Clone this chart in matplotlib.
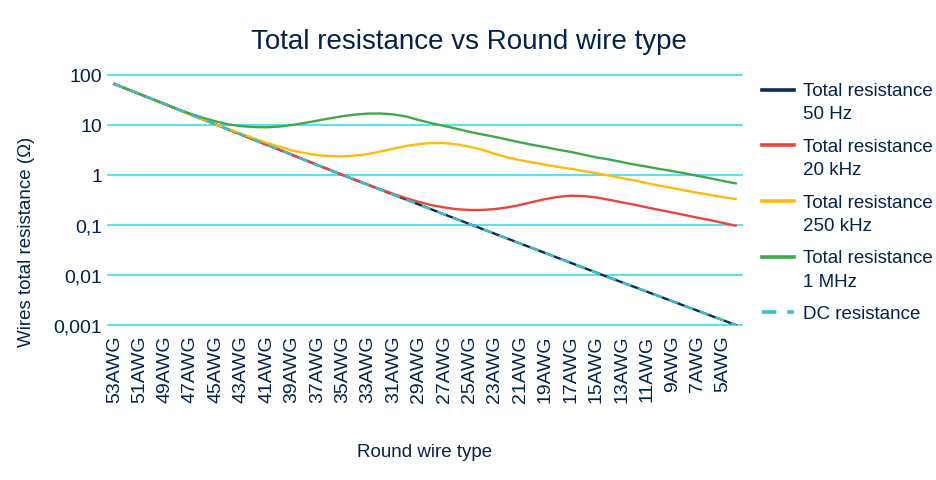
import numpy as np
import matplotlib
matplotlib.use("Agg")
import matplotlib.pyplot as plt
from matplotlib.legend_handler import HandlerLine2D

plt.rcParams['font.family'] = ['Liberation Sans', 'DejaVu Sans']

# wire gauges, 53AWG down to 4AWG
gauges = [f"{g}AWG" for g in range(53, 3, -1)]

dc_res = [66.1, 52.4, 41.5, 32.9, 26.1, 20.6, 16.3, 12.9, 10.3, 8.13,
          6.44, 5.10, 4.04, 3.21, 2.54, 2.01, 1.59, 1.26, 1.00, 0.798,
          0.637, 0.508, 0.406, 0.324, 0.258, 0.206, 0.164, 0.131, 0.105, 0.0836,
          0.0669, 0.0535, 0.0428, 0.0342, 0.0274, 0.0219, 0.0175, 0.0140, 0.0112, 0.00895,
          0.00719, 0.00578, 0.00464, 0.00373, 0.00299, 0.00240, 0.00193, 0.00155, 0.00125, 0.00100]

res_50hz = list(dc_res)

res_20khz = dc_res[:20] + [
    0.64, 0.515, 0.42, 0.345, 0.29, 0.25, 0.225, 0.207, 0.200, 0.200,
    0.208, 0.225, 0.252, 0.29, 0.33, 0.365, 0.385, 0.38, 0.355, 0.32,
    0.285, 0.255, 0.225, 0.2, 0.178, 0.158, 0.14, 0.125, 0.11, 0.097]

res_250khz = dc_res[:9] + [
    8.3, 6.7, 5.4, 4.4, 3.7, 3.1, 2.75, 2.5, 2.38, 2.36,
    2.45, 2.62, 2.95, 3.35, 3.8, 4.15, 4.35, 4.35, 4.1, 3.7,
    3.2, 2.65, 2.25, 1.98, 1.78, 1.6, 1.45, 1.33, 1.2, 1.09,
    0.98, 0.87, 0.78, 0.69, 0.61, 0.55, 0.49, 0.44, 0.4, 0.36, 0.33]

res_1mhz = dc_res[:5] + [
    20.8, 16.8, 13.9, 11.8, 10.3, 9.5, 9.1, 9.0, 9.3, 10.0,
    11.0, 12.2, 13.6, 15.0, 16.2, 16.9, 17.0, 16.3, 14.8, 12.6,
    10.9, 9.6, 8.4, 7.3, 6.5, 5.8, 5.1, 4.5, 4.0, 3.6,
    3.2, 2.9, 2.55, 2.25, 2.05, 1.82, 1.62, 1.47, 1.32, 1.2,
    1.08, 0.96, 0.86, 0.76, 0.68]

navy = "#03234B"
grid_c = "#3DDCEF"


class TopLineHandler(HandlerLine2D):
    # put the legend key next to the first line of a two-line label
    def __init__(self, shift, **kw):
        super().__init__(**kw)
        self.shift = shift

    def create_artists(self, legend, orig_handle, xdescent, ydescent, width, height, fontsize, trans):
        arts = super().create_artists(legend, orig_handle, xdescent, ydescent, width, height, fontsize, trans)
        for a in arts:
            a.set_ydata(np.asarray(a.get_ydata()) + self.shift)
        return arts


fig = plt.figure(figsize=(9.37, 4.81), dpi=100)
ax = fig.add_axes([108/937, 1-326/481, (742-108)/937, (326-76)/481])

x = np.arange(len(gauges))
lw = 1.7
l50, = ax.plot(x, res_50hz, color="#0B2A5B", lw=lw, label="Total resistance\n50 Hz")
l20, = ax.plot(x, res_20khz, color="#E8463A", lw=lw, label="Total resistance\n20 kHz")
l250, = ax.plot(x, res_250khz, color="#FFBB0A", lw=lw, label="Total resistance\n250 kHz")
l1m, = ax.plot(x, res_1mhz, color="#3CAA4A", lw=lw, label="Total resistance\n1 MHz")
ldc, = ax.plot(x, dc_res, color="#3CBFC8", lw=lw, ls=(0, (4, 3)), label="DC resistance")

ax.set_yscale("log")
ax.set_ylim(0.001, 100)
ax.set_xlim(-0.5, len(gauges) - 0.5)
ax.set_yticks([0.001, 0.01, 0.1, 1, 10, 100])
ax.set_yticklabels(["0,001", "0,01", "0,1", "1", "10", "100"])
ax.minorticks_off()
ax.set_xticks(x[::2])
ax.set_xticklabels(gauges[::2], rotation=90)
ax.tick_params(length=0, labelsize=14, labelcolor=navy)
ax.tick_params(axis="y", pad=4)
ax.tick_params(axis="x", pad=7)
ax.grid(axis="y", color=grid_c, lw=1.2)
for g in ax.get_ygridlines():
    g.set_clip_on(False)
ax.set_axisbelow(True)
for s in ax.spines.values():
    s.set_visible(False)

ax.set_xlabel("Round wire type", fontsize=13.5, color=navy, labelpad=29)
ax.set_ylabel("Wires total resistance (\u03a9)", fontsize=13.5, color=navy)
ax.yaxis.set_label_coords(-0.115, 0.336)
fig.suptitle("Total resistance vs Round wire type", fontsize=20, color=navy, y=0.94)

hmap = {h: TopLineHandler(9.0) for h in (l50, l20, l250, l1m)}
leg = ax.legend(loc="upper left", bbox_to_anchor=(1.005, 1.04), frameon=False, fontsize=13.5,
                labelcolor=navy, handlelength=1.7, labelspacing=0.82, handletextpad=0.5,
                handler_map=hmap)
for t in leg.get_texts():
    t.set_linespacing(1.5)
for h in leg.legend_handles:
    h.set_linewidth(2.6)

fig.savefig("out.png", dpi=100)
